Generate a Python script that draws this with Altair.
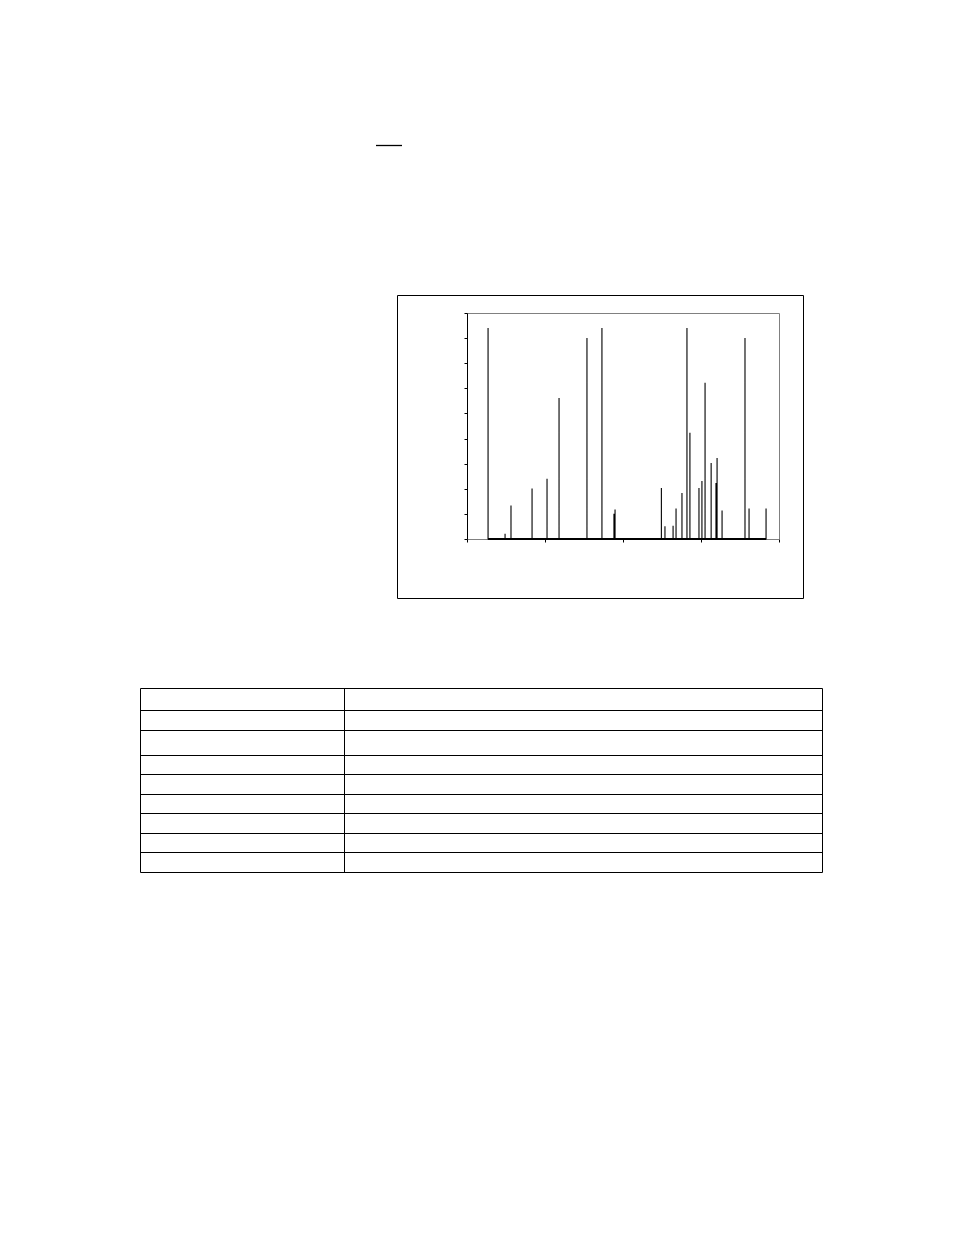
import altair as alt
import pandas as pd

# Spectrum peaks (x position in data units, peak height in data units)
peak_x = [135, 244, 282, 417, 513, 590, 769, 865, 942, 949,
          1246, 1269, 1321, 1340, 1378, 1410, 1429, 1487, 1506, 1526,
          1565, 1596, 1603, 1635, 1782, 1808, 1917]
peak_h = [84.0, 2.1, 13.3, 20.1, 24.0, 56.2, 80.0, 84.0, 10.1, 11.7,
          20.3, 5.1, 5.3, 12.1, 18.3, 84.0, 42.3, 20.3, 23.1, 62.2,
          30.3, 22.3, 32.3, 11.3, 80.0, 12.1, 12.1]

x_ticks = [0, 500, 1000, 1500, 2000]
y_ticks = [0, 10, 20, 30, 40, 50, 60, 70, 80, 90]

# Build line points: each peak as up-and-down stroke at one x
rows = []
k = 0
for px, ph in zip(peak_x, peak_h):
    for v in (0.0, ph, 0.0):
        rows.append({"x": px, "y": v, "o": k})
        k += 1
spec = pd.DataFrame(rows)

W, H = 312, 226

xscale = alt.Scale(domain=[0, 2000], nice=False, zero=False)
yscale = alt.Scale(domain=[0, 90], nice=False)
xaxis = alt.Axis(values=x_ticks, labels=False, title=None, grid=False,
                 domainColor="#808080", tickColor="black", tickSize=3,
                 domainWidth=1, tickWidth=1)
yaxis = alt.Axis(values=y_ticks, labels=False, title=None, grid=False,
                 domainColor="black", tickColor="black", tickSize=3,
                 domainWidth=1, tickWidth=1)

line = alt.Chart(spec).mark_line(color="black", strokeWidth=1.1,
                                 interpolate="linear").encode(
    x=alt.X("x:Q", scale=xscale, axis=xaxis),
    y=alt.Y("y:Q", scale=yscale, axis=yaxis),
    order="o:Q",
)

# thicker black baseline of the series between first and last peak
baseline = alt.Chart(spec).mark_rule(color="black", strokeWidth=2).encode(
    x=alt.X("min(x):Q", scale=xscale, axis=xaxis),
    x2="max(x):Q",
    y=alt.Y(datum=0, type="quantitative", scale=yscale, axis=yaxis),
)

dummy = pd.DataFrame({"d": [0]})
base = alt.Chart(dummy)

layers = [line, baseline]

# outer chart frame
layers.append(base.mark_rect(fillOpacity=0, stroke="black", strokeWidth=1).encode(
    x=alt.value(-69.5), x2=alt.value(336.5), y=alt.value(-17.5), y2=alt.value(285.5)))

# small underline near top of page
layers.append(base.mark_rule(color="black", strokeWidth=1.3).encode(
    x=alt.value(-91), x2=alt.value(-65), y=alt.value(-167.5)))

# table grid (empty table)
tbl_left, tbl_mid, tbl_right = -326.5, -122.5, 355.5
tbl_rows = [375.5, 397.5, 417.5, 442.5, 461.5, 481.5, 500.5, 520.5, 539.5, 559.5]
for yy in tbl_rows:
    layers.append(base.mark_rule(color="black", strokeWidth=1).encode(
        x=alt.value(tbl_left), x2=alt.value(tbl_right), y=alt.value(yy)))
for xx in (tbl_left, tbl_mid, tbl_right):
    layers.append(base.mark_rule(color="black", strokeWidth=1).encode(
        x=alt.value(xx), y=alt.value(tbl_rows[0]), y2=alt.value(tbl_rows[-1])))

chart = alt.layer(*layers).properties(
    width=W, height=H,
    autosize=alt.AutoSizeParams(type="none"),
    padding={"left": 459, "top": 305, "right": 159, "bottom": 369},
    background="white",
).configure_view(stroke="#808080", strokeWidth=1)

chart.save("out.html", embed_options={"renderer": "svg", "actions": False})
